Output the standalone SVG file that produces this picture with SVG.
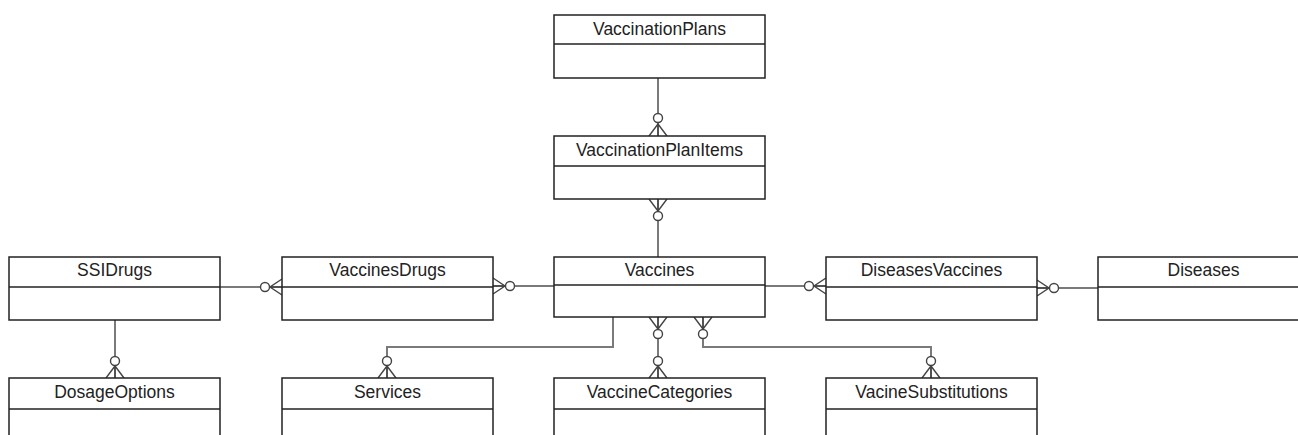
<svg xmlns="http://www.w3.org/2000/svg" width="1298" height="435" viewBox="0 0 1298 435">
<style>
.box{fill:#fff;stroke:#222;stroke-width:1.5}
.div{stroke:#222;stroke-width:1.5}
.t{font-family:"Liberation Sans",Arial,sans-serif;font-size:17.5px;fill:#222;text-anchor:middle}
.c{fill:none;stroke:#7a7a7a;stroke-width:2}
.f{fill:none;stroke:#444;stroke-width:1.4}
.o{fill:#fff;stroke:#444;stroke-width:1.4}
</style>
<rect width="1298" height="435" fill="#fff"/>
<g id="connectors">
  <path class="c" d="M658,78 V136"/>
  <path class="f" d="M649,136 L658,124 L667,136 M658,124 V136"/>
  <circle class="o" cx="658" cy="118" r="4.5"/>
  <path class="c" d="M658,199 V257"/>
  <path class="f" d="M649,199 L658,211 L667,199 M658,199 V211"/>
  <circle class="o" cx="658" cy="216" r="4.5"/>
  <path class="c" d="M220,287 H282"/>
  <path class="f" d="M282,279 L270,287 L282,295 M270,287 H282"/>
  <circle class="o" cx="265" cy="287" r="4.5"/>
  <path class="c" d="M493,286 H554"/>
  <path class="f" d="M493,278 L505,286 L493,294 M493,286 H505"/>
  <circle class="o" cx="510" cy="286" r="4.5"/>
  <path class="c" d="M765,286 H826"/>
  <path class="f" d="M826,278 L814,286 L826,294 M814,286 H826"/>
  <circle class="o" cx="809" cy="286" r="4.5"/>
  <path class="c" d="M1037,288 H1098"/>
  <path class="f" d="M1037,280 L1049,288 L1037,296 M1037,288 H1049"/>
  <circle class="o" cx="1054" cy="288" r="4.5"/>
  <path class="c" d="M115,320 V378"/>
  <path class="f" d="M106,378 L115,366 L124,378 M115,366 V378"/>
  <circle class="o" cx="115" cy="361" r="4.5"/>
  <path class="c" d="M613,317 V347 H387 V378"/>
  <path class="f" d="M378,378 L387,366 L396,378 M387,366 V378"/>
  <circle class="o" cx="387" cy="361" r="4.5"/>
  <path class="c" d="M658,317 V378"/>
  <path class="f" d="M649,317 L658,329 L667,317 M658,317 V329"/>
  <circle class="o" cx="658" cy="334" r="4.5"/>
  <path class="f" d="M649,378 L658,366 L667,378 M658,366 V378"/>
  <circle class="o" cx="658" cy="361" r="4.5"/>
  <path class="c" d="M703,317 V347 H931 V378"/>
  <path class="f" d="M694,317 L703,329 L712,317 M703,317 V329"/>
  <circle class="o" cx="703" cy="334" r="4.5"/>
  <path class="f" d="M922,378 L931,366 L940,378 M931,366 V378"/>
  <circle class="o" cx="931" cy="361" r="4.5"/>
</g>
<g id="VaccinationPlans">
  <rect class="box" x="554" y="15" width="211" height="63"/>
  <line class="div" x1="554" y1="44" x2="765" y2="44"/>
  <text class="t" x="659.5" y="35">VaccinationPlans</text>
</g>
<g id="VaccinationPlanItems">
  <rect class="box" x="554" y="136" width="211" height="63"/>
  <line class="div" x1="554" y1="166" x2="765" y2="166"/>
  <text class="t" x="659.5" y="156">VaccinationPlanItems</text>
</g>
<g id="SSIDrugs">
  <rect class="box" x="9" y="257" width="211" height="63"/>
  <line class="div" x1="9" y1="287" x2="220" y2="287"/>
  <text class="t" x="114.5" y="276">SSIDrugs</text>
</g>
<g id="VaccinesDrugs">
  <rect class="box" x="282" y="257" width="211" height="63"/>
  <line class="div" x1="282" y1="287" x2="493" y2="287"/>
  <text class="t" x="387.5" y="276">VaccinesDrugs</text>
</g>
<g id="Vaccines">
  <rect class="box" x="554" y="257" width="211" height="60"/>
  <line class="div" x1="554" y1="285" x2="765" y2="285"/>
  <text class="t" x="659.5" y="276">Vaccines</text>
</g>
<g id="DiseasesVaccines">
  <rect class="box" x="826" y="257" width="211" height="63"/>
  <line class="div" x1="826" y1="287" x2="1037" y2="287"/>
  <text class="t" x="931.5" y="276">DiseasesVaccines</text>
</g>
<g id="Diseases">
  <rect class="box" x="1098" y="257" width="211" height="63"/>
  <line class="div" x1="1098" y1="287" x2="1309" y2="287"/>
  <text class="t" x="1203.5" y="276">Diseases</text>
</g>
<g id="DosageOptions">
  <rect class="box" x="9" y="378" width="211" height="63"/>
  <line class="div" x1="9" y1="409" x2="220" y2="409"/>
  <text class="t" x="114.5" y="398">DosageOptions</text>
</g>
<g id="Services">
  <rect class="box" x="282" y="378" width="211" height="63"/>
  <line class="div" x1="282" y1="409" x2="493" y2="409"/>
  <text class="t" x="387.5" y="398">Services</text>
</g>
<g id="VaccineCategories">
  <rect class="box" x="554" y="378" width="211" height="63"/>
  <line class="div" x1="554" y1="409" x2="765" y2="409"/>
  <text class="t" x="659.5" y="398">VaccineCategories</text>
</g>
<g id="VacineSubstitutions">
  <rect class="box" x="826" y="378" width="211" height="63"/>
  <line class="div" x1="826" y1="409" x2="1037" y2="409"/>
  <text class="t" x="931.5" y="398">VacineSubstitutions</text>
</g>
</svg>
